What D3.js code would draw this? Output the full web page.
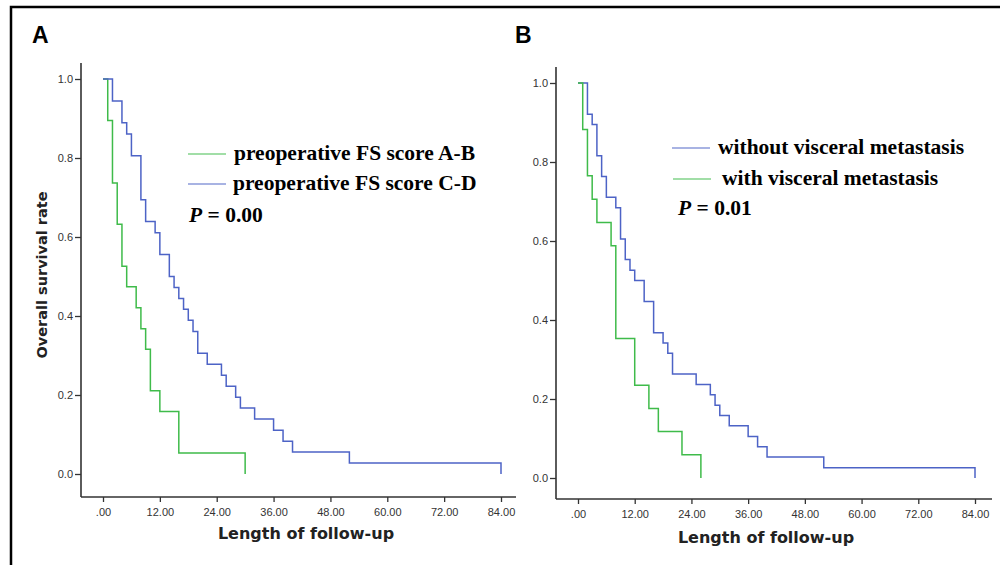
<!DOCTYPE html>
<html>
<head>
<meta charset="utf-8">
<script src="https://cdn.jsdelivr.net/npm/d3@7"></script>
<style>
  body { margin: 0; background: #fff; }
  .tick text { font-family: "Liberation Sans", Arial, sans-serif; font-size: 11px; fill: #333; }
  .tick line { stroke: #333; stroke-width: 1.3; }
</style>
</head>
<body>
<script>
// months of follow-up where the curve steps down, and survival after each step
const timeA1 = [1, 2, 3, 4, 5, 7, 8, 9, 10, 12, 16, 30];
const survA1 = [0.895, 0.737, 0.632, 0.526, 0.474, 0.421, 0.368, 0.316, 0.211, 0.158, 0.053, 0];
const timeA2 = [2, 4, 5, 6, 8, 9, 11, 12, 14, 15, 16, 17, 18, 19, 20, 22, 25, 26, 28, 29, 32, 36, 38, 40, 52, 84];
const survA2 = [0.944, 0.889, 0.861, 0.806, 0.694, 0.639, 0.611, 0.556, 0.5, 0.472, 0.444, 0.417, 0.389, 0.361, 0.306, 0.278, 0.25, 0.222, 0.194, 0.167, 0.139, 0.111, 0.083, 0.056, 0.028, 0];

const timeB1 = [2, 3, 4, 5, 6, 8, 9, 10, 11, 12, 14, 16, 18, 19, 20, 25, 28, 29, 30, 32, 36, 38, 40, 52, 84];
const survB1 = [0.921, 0.895, 0.816, 0.763, 0.711, 0.684, 0.605, 0.553, 0.526, 0.5, 0.447, 0.368, 0.342, 0.316, 0.263, 0.237, 0.211, 0.184, 0.158, 0.132, 0.105, 0.079, 0.053, 0.026, 0];
const timeB2 = [1, 2, 3, 4, 7, 8, 12, 15, 17, 22, 26];
const survB2 = [0.882, 0.765, 0.706, 0.647, 0.588, 0.353, 0.235, 0.176, 0.118, 0.059, 0];

const xTicks = [0, 12, 24, 36, 48, 60, 72, 84];
const yTicks = [0, 0.2, 0.4, 0.6, 0.8, 1.0];

const legendA = ["preoperative FS score A-B", "preoperative FS score C-D"];
const legendB = ["without visceral metastasis", "with visceral metastasis"];

const green = "#3fbb4a";
const blue = "#4d63c6";

const svg = d3.select("body").append("svg")
    .attr("width", 1000)
    .attr("height", 565);

// outer frame, cut off at right and bottom like the original
svg.append("rect")
    .attr("x", 11).attr("y", 7)
    .attr("width", 1000).attr("height", 570)
    .attr("fill", "none")
    .attr("stroke", "#000")
    .attr("stroke-width", 2.5);

function toSteps(times, surv) {
    let pts = [[0, 1]];
    times.forEach((t, i) => pts.push([t, surv[i]]));
    return pts;
}

function panel(opts) {
    const x = d3.scaleLinear().domain([0, 84]).range([opts.x0, opts.x1]);
    const y = d3.scaleLinear().domain([0, 1]).range([opts.y0, opts.y1]);
    const g = svg.append("g");

    // axis lines
    g.append("line")
        .attr("x1", opts.axX).attr("x2", opts.axX)
        .attr("y1", opts.axTop).attr("y2", opts.axY)
        .attr("stroke", "#333").attr("stroke-width", 1.6);
    g.append("line")
        .attr("x1", opts.axX).attr("x2", opts.axRight)
        .attr("y1", opts.axY).attr("y2", opts.axY)
        .attr("stroke", "#333").attr("stroke-width", 1.6);

    const yAxis = d3.axisLeft(y)
        .tickValues(yTicks)
        .tickSize(6)
        .tickPadding(2)
        .tickFormat(d3.format(".1f"));
    g.append("g")
        .attr("transform", `translate(${opts.axX},0)`)
        .call(yAxis)
        .call(a => a.select(".domain").remove());

    const xAxis = d3.axisBottom(x)
        .tickValues(xTicks)
        .tickSize(5)
        .tickPadding(6)
        .tickFormat(d => d === 0 ? ".00" : d3.format(".2f")(d));
    g.append("g")
        .attr("transform", `translate(0,${opts.axY})`)
        .call(xAxis)
        .call(a => a.select(".domain").remove());

    const line = d3.line()
        .x(d => x(d[0]))
        .y(d => y(d[1]))
        .curve(d3.curveStepAfter);

    opts.series.forEach(s => {
        g.append("path")
            .datum(toSteps(s.t, s.s))
            .attr("fill", "none")
            .attr("stroke", s.color)
            .attr("stroke-width", 1.5)
            .attr("d", line);
    });

    // panel letter
    g.append("text")
        .attr("x", opts.letterX).attr("y", 43)
        .attr("font-family", "Liberation Sans, Arial, sans-serif")
        .attr("font-weight", "bold")
        .attr("font-size", 23)
        .text(opts.letter);

    // x title
    g.append("text")
        .attr("x", opts.titleX).attr("y", opts.titleY)
        .attr("text-anchor", "middle")
        .attr("font-family", "DejaVu Sans, sans-serif")
        .attr("font-weight", "bold")
        .attr("font-size", 16)
        .attr("fill", "#222")
        .text("Length of follow-up");

    // legend
    opts.legend.forEach((l, i) => {
        g.append("line")
            .attr("x1", l.lx).attr("x2", l.lx + 38)
            .attr("y1", l.ly).attr("y2", l.ly)
            .attr("stroke", l.color)
            .attr("stroke-opacity", 0.65)
            .attr("stroke-width", 1.5);
        g.append("text")
            .attr("x", l.tx).attr("y", l.ly + 6)
            .attr("font-family", "Liberation Serif, Times New Roman, serif")
            .attr("font-weight", "bold")
            .attr("font-size", 21.5)
            .text(l.label);
    });

    const p = g.append("text")
        .attr("x", opts.pX).attr("y", opts.pY)
        .attr("font-family", "Liberation Serif, Times New Roman, serif")
        .attr("font-weight", "bold")
        .attr("font-size", 21.5);
    p.append("tspan").attr("font-style", "italic").text("P");
    p.append("tspan").text(" = " + opts.pValue);

    return g;
}

panel({
    x0: 103, x1: 501, y0: 474, y1: 79,
    axX: 81, axY: 497, axTop: 63, axRight: 516,
    letter: "A", letterX: 32,
    titleX: 306, titleY: 539,
    series: [
        { t: timeA1, s: survA1, color: green },
        { t: timeA2, s: survA2, color: blue }
    ],
    legend: [
        { lx: 188, ly: 154, tx: 234, label: legendA[0], color: green },
        { lx: 188, ly: 184, tx: 233, label: legendA[1], color: blue }
    ],
    pX: 189, pY: 222, pValue: "0.00"
});

panel({
    x0: 578, x1: 975, y0: 478, y1: 83,
    axX: 556, axY: 499, axTop: 67, axRight: 992,
    letter: "B", letterX: 515,
    titleX: 766, titleY: 543,
    series: [
        { t: timeB1, s: survB1, color: blue },
        { t: timeB2, s: survB2, color: green }
    ],
    legend: [
        { lx: 672, ly: 148, tx: 718, label: legendB[0], color: blue },
        { lx: 673, ly: 179, tx: 722, label: legendB[1], color: green }
    ],
    pX: 678, pY: 215, pValue: "0.01"
});

// y title, only on panel A
svg.append("text")
    .attr("transform", "translate(47,275) rotate(-90)")
    .attr("text-anchor", "middle")
    .attr("font-family", "DejaVu Sans, sans-serif")
    .attr("font-weight", "bold")
    .attr("font-size", 14.5)
    .attr("fill", "#222")
    .text("Overall survival rate");
</script>
</body>
</html>
